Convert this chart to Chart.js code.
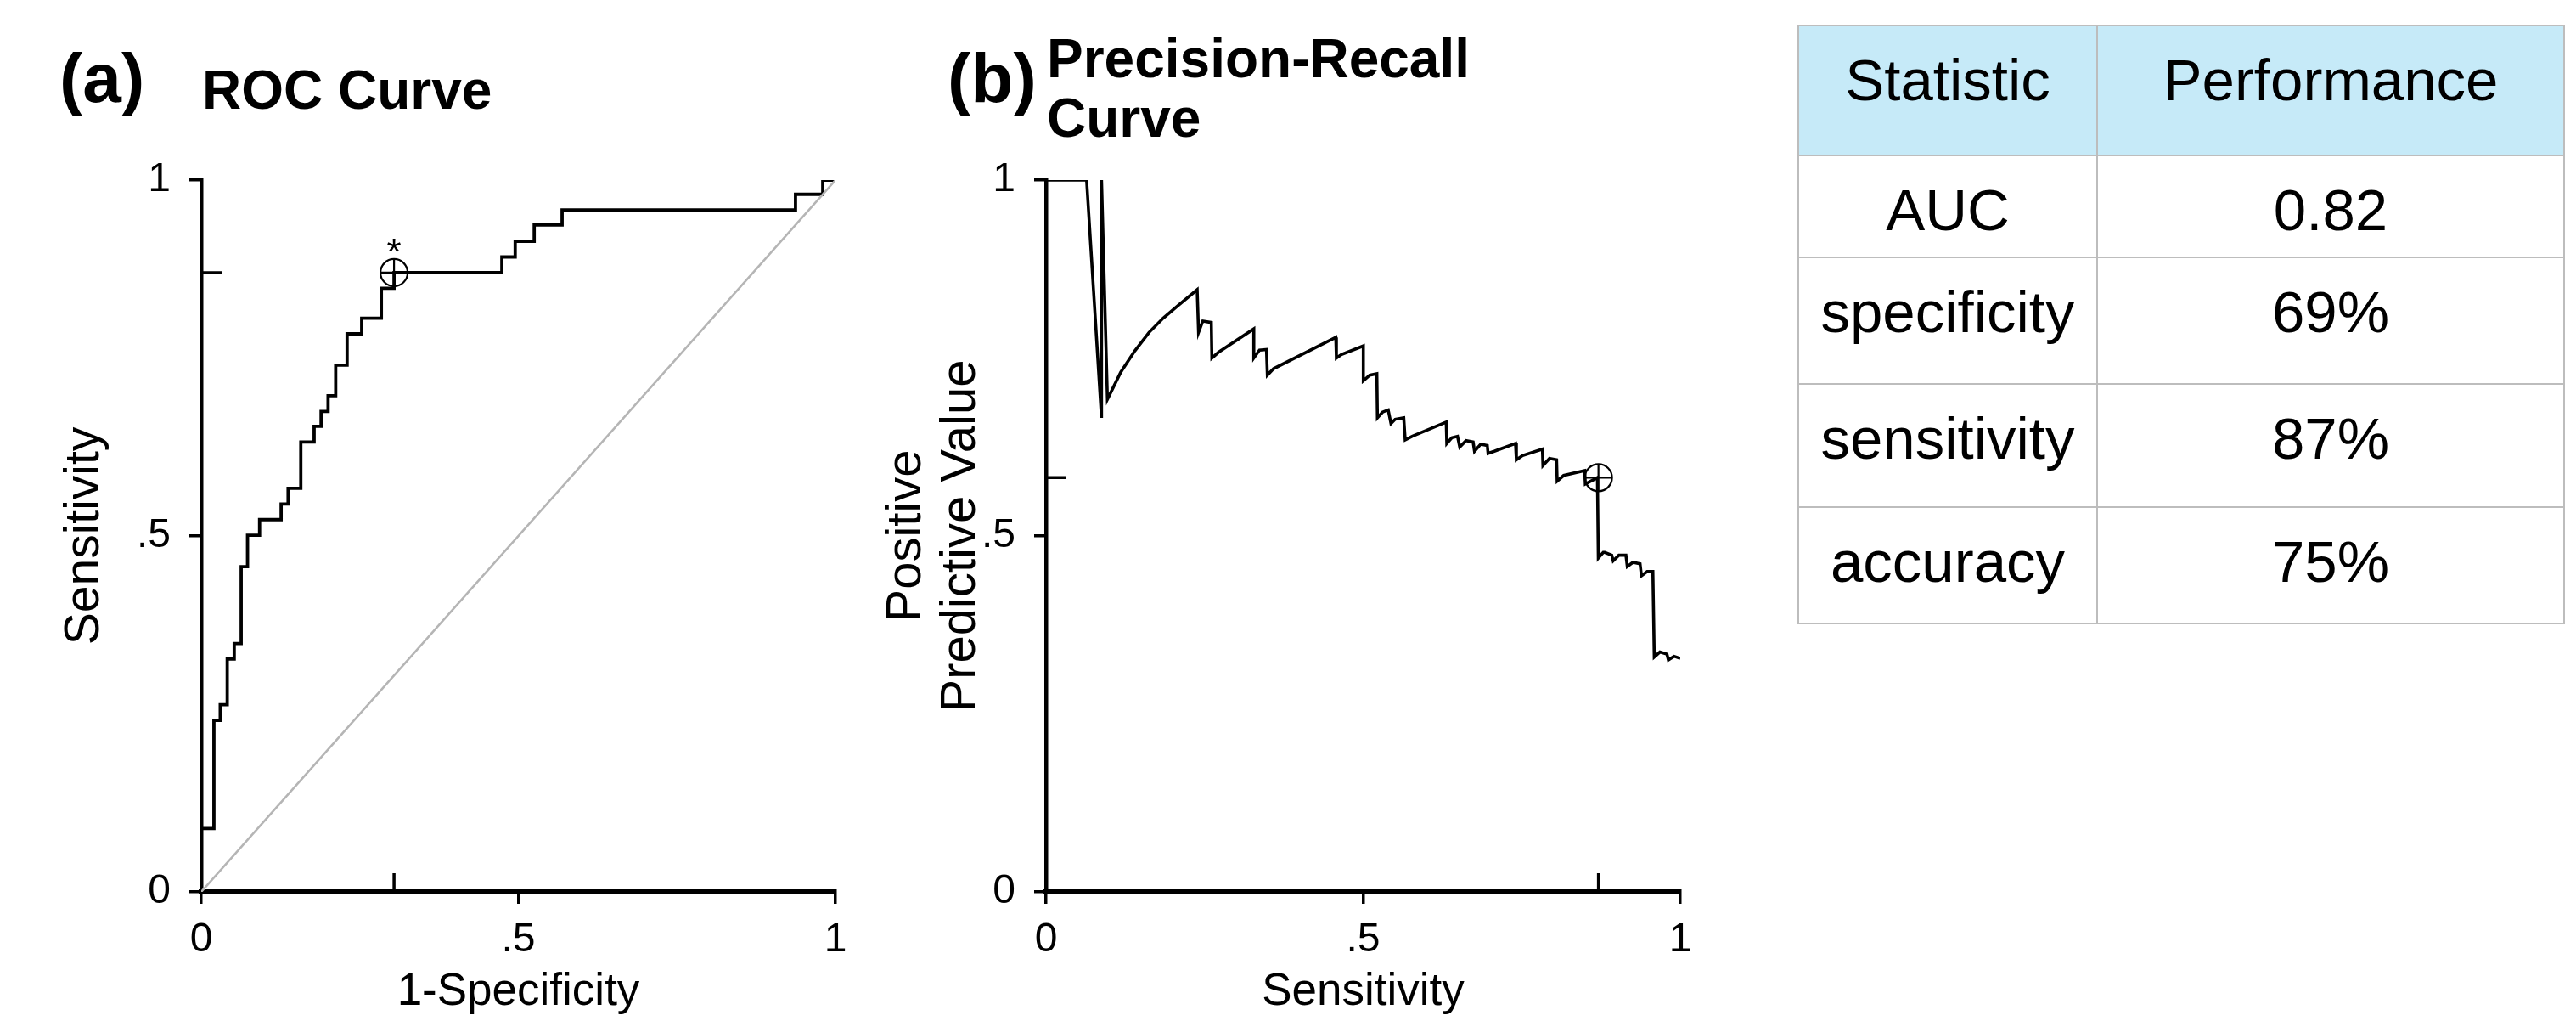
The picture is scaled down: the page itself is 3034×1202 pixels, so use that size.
<!DOCTYPE html>
<html>
<head>
<meta charset="utf-8">
<title>ROC and Precision-Recall</title>
<script src="https://cdn.jsdelivr.net/npm/chart.js@4.4.1/dist/chart.umd.min.js"></script>
<style>
  html, body { margin: 0; padding: 0; background: #fff; }
  body { width: 3034px; height: 1202px; position: relative; overflow: hidden; font-family: 'Liberation Sans', Arial, sans-serif; color: #000; }
  canvas { position: absolute; top: 0; }
  #rocChart { left: 0; }
  #prChart { left: 1000px; }
  .panel-tag { position: absolute; font-weight: bold; font-size: 82px; line-height: 82px; }
  .panel-title { position: absolute; font-weight: bold; font-size: 64px; line-height: 70px; white-space: nowrap; }
  #stats { position: absolute; left: 2117px; top: 29px; border-collapse: collapse; table-layout: fixed; }
  #stats td, #stats th { border: 2px solid #bdbdbd; box-sizing: border-box; text-align: center; vertical-align: top;
    padding: 29px 0 0 0; font-size: 69px; line-height: 69px; font-weight: normal; }
  #stats th { background: #c6eaf8; }
</style>
</head>
<body>
<div class="panel-tag" style="left:70px; top:51px">(a)</div>
<div class="panel-title" style="left:238px; top:71px">ROC Curve</div>
<div class="panel-tag" style="left:1116px; top:51px">(b)</div>
<div class="panel-title" style="left:1233px; top:34px">Precision-Recall<br>Curve</div>

<canvas id="rocChart" width="1050" height="1202"></canvas>
<canvas id="prChart" width="1080" height="1202"></canvas>
<table id="stats"></table>

<script>
// ROC curve: 1-specificity / sensitivity at each step corner
const rocFpr = [0, 0.020, 0.030, 0.041, 0.052, 0.063, 0.073, 0.092, 0.126, 0.137, 0.157, 0.178, 0.189,
  0.200, 0.212, 0.230, 0.253, 0.284, 0.304, 0.474, 0.495, 0.525, 0.569, 0.937, 0.980, 1.0];
const rocTpr = [0, 0.089, 0.241, 0.263, 0.327, 0.349, 0.457, 0.501, 0.523, 0.545, 0.567, 0.632, 0.654,
  0.675, 0.697, 0.740, 0.784, 0.806, 0.848, 0.870, 0.892, 0.914, 0.937, 0.958, 0.980, 1.0];
const chanceLine = [0, 1];
const rocCutoff = [0.304, 0.870];

// precision-recall curve (sensitivity / positive predictive value)
const prRecall = [0, 0.064, 0.0875, 0.0875, 0.0968, 0.1178, 0.140, 0.1624, 0.1847, 0.2071, 0.2383, 0.2405,
  0.2472, 0.2606, 0.2615, 0.2718, 0.3276, 0.3276, 0.3365, 0.3476, 0.349, 0.3588, 0.4569, 0.4578, 0.4659,
  0.5003, 0.5003, 0.5104, 0.5216, 0.5225, 0.5305, 0.5395, 0.5439, 0.5506, 0.5640, 0.5663, 0.5774, 0.6310,
  0.6319, 0.6399, 0.6488, 0.6523, 0.6622, 0.6734, 0.6756, 0.6854, 0.6957, 0.6970, 0.7068, 0.7403, 0.7416,
  0.7514, 0.7827, 0.7835, 0.7938, 0.8050, 0.8059, 0.8162, 0.8494, 0.8503, 0.8694, 0.8708, 0.8786, 0.8809,
  0.8920, 0.8942, 0.9032, 0.9143, 0.9165, 0.9254, 0.9366, 0.9388, 0.9478, 0.9568, 0.9590, 0.9679, 0.9790,
  0.9813, 0.9902, 1.0];
const prPrecision = [1.0, 1.0, 0.666, 1.0, 0.692, 0.730, 0.760, 0.786, 0.806, 0.823, 0.846, 0.786,
  0.802, 0.800, 0.750, 0.758, 0.791, 0.750, 0.761, 0.762, 0.726, 0.735, 0.779, 0.750, 0.755,
  0.767, 0.718, 0.726, 0.728, 0.666, 0.674, 0.677, 0.658, 0.664, 0.666, 0.635, 0.640, 0.660,
  0.630, 0.638, 0.640, 0.625, 0.634, 0.632, 0.619, 0.629, 0.627, 0.616, 0.619, 0.630, 0.607,
  0.613, 0.622, 0.599, 0.609, 0.607, 0.577, 0.585, 0.592, 0.573, 0.582, 0.469, 0.477, 0.477,
  0.473, 0.465, 0.473, 0.473, 0.457, 0.463, 0.461, 0.444, 0.450, 0.450, 0.330, 0.337, 0.334,
  0.326, 0.331, 0.328];
const prCutoff = [0.871, 0.582];

const axisTicks = [0, 0.5, 1];
const tickText = ['0', '.5', '1'];

const statHeader = ['Statistic', 'Performance'];
const statNames = ['AUC', 'specificity', 'sensitivity', 'accuracy'];
const statValues = ['0.82', '69%', '87%', '75%'];

// layout
const rowHeights = [153, 120, 149, 145, 137];
const colWidths = [352, 550];
const narrowFont = "'Liberation Sans Narrow', 'Arial Narrow', 'Liberation Sans', sans-serif";
const plainFont = "'Liberation Sans', Arial, sans-serif";

const toPoints = (xs, ys) => xs.map((x, i) => ({ x: x, y: ys[i] }));

// cutoff marks: inward ticks on both axes, optional asterisk above the marker
const cutoffMarks = {
    id: 'cutoffMarks',
    afterDatasetsDraw(chart, args, opts) {
        const { ctx, scales: { x, y } } = chart;
        const px = x.getPixelForValue(opts.point[0]);
        const py = y.getPixelForValue(opts.point[1]);
        ctx.save();
        ctx.strokeStyle = '#000';
        ctx.lineWidth = 3.5;
        ctx.beginPath();
        ctx.moveTo(x.left, py);
        ctx.lineTo(x.left + 24, py);
        ctx.moveTo(px, y.bottom);
        ctx.lineTo(px, y.bottom - 22);
        ctx.stroke();
        if (opts.star) {
            ctx.fillStyle = '#000';
            ctx.font = '44px ' + plainFont;
            ctx.textAlign = 'center';
            ctx.textBaseline = 'alphabetic';
            ctx.fillText('*', px, py - 36 + 27);
        }
        ctx.restore();
    }
};

function axisOptions(isX, title, fitSize, titleFont, titlePad) {
    return {
        type: 'linear',
        min: 0,
        max: 1,
        afterBuildTicks: s => { s.ticks = axisTicks.map(v => ({ value: v })); },
        afterFit: s => { if (isX) s.height = fitSize; else s.width = fitSize; },
        grid: { drawOnChartArea: false, drawTicks: true, tickLength: 14, color: '#000', lineWidth: 3.5 },
        border: { color: '#000', width: isX ? 5.5 : 4.5 },
        ticks: {
            callback: v => tickText[axisTicks.indexOf(v)],
            font: { family: narrowFont, size: 48 },
            color: '#000',
            padding: isX ? 14 : 22,
            maxRotation: 0
        },
        title: { display: true, text: title, color: '#000', font: titleFont, padding: titlePad }
    };
}

function markerSets(point) {
    const base = { data: [{ x: point[0], y: point[1] }], pointRadius: 16, borderColor: '#000',
        pointBorderWidth: 2.2, backgroundColor: 'rgba(0,0,0,0)', showLine: false };
    return [
        Object.assign({}, base, { pointStyle: 'circle' }),
        Object.assign({}, base, { pointStyle: 'cross' })
    ];
}

function buildPlot(canvasId, datasets, padding, xAxis, yAxis, marks) {
    return new Chart(document.getElementById(canvasId), {
        type: 'scatter',
        data: { datasets: datasets },
        options: {
            responsive: false,
            animation: false,
            devicePixelRatio: 1,
            events: [],
            layout: { padding: padding },
            plugins: { legend: { display: false }, tooltip: { enabled: false }, cutoffMarks: marks },
            scales: { x: xAxis, y: yAxis }
        },
        plugins: [cutoffMarks]
    });
}

buildPlot('rocChart',
    [
        { data: toPoints(chanceLine, chanceLine), showLine: true, borderColor: '#b5b5b5', borderWidth: 2.5, pointRadius: 0 },
        { data: toPoints(rocFpr, rocTpr), showLine: true, stepped: 'after', borderColor: '#000', borderWidth: 3.8, pointRadius: 0 }
    ].concat(markerSets(rocCutoff)),
    { left: 0, top: 212, right: 66, bottom: 0 },
    axisOptions(true, '1-Specificity', 152, { family: narrowFont, size: 53, lineHeight: 1.2 }, { top: 0, bottom: 2 }),
    axisOptions(false, 'Sensitivity', 237, { family: plainFont, size: 57, lineHeight: 1.2 }, { top: 66, bottom: 0 }),
    { point: rocCutoff, star: true }
);

buildPlot('prChart',
    [
        { data: toPoints(prRecall, prPrecision), showLine: true, borderColor: '#000', borderWidth: 3.6, pointRadius: 0 }
    ].concat(markerSets(prCutoff)),
    { left: 0, top: 212, right: 101, bottom: 0 },
    axisOptions(true, 'Sensitivity', 152, { family: narrowFont, size: 53, lineHeight: 1.2 }, { top: 0, bottom: 2 }),
    axisOptions(false, ['Positive', 'Predictive Value'], 232, { family: plainFont, size: 58, lineHeight: 1.1 }, { top: 36, bottom: 0 }),
    { point: prCutoff, star: false }
);

function buildTable() {
    const table = document.getElementById('stats');
    const rows = [statHeader].concat(statNames.map((name, i) => [name, statValues[i]]));
    rows.forEach((cells, r) => {
        const tr = table.insertRow();
        tr.style.height = rowHeights[r] + 'px';
        cells.forEach((text, c) => {
            const cell = document.createElement(r === 0 ? 'th' : 'td');
            cell.textContent = text;
            cell.style.width = colWidths[c] + 'px';
            cell.style.height = rowHeights[r] + 'px';
            tr.appendChild(cell);
        });
    });
}
buildTable();
</script>
</body>
</html>
